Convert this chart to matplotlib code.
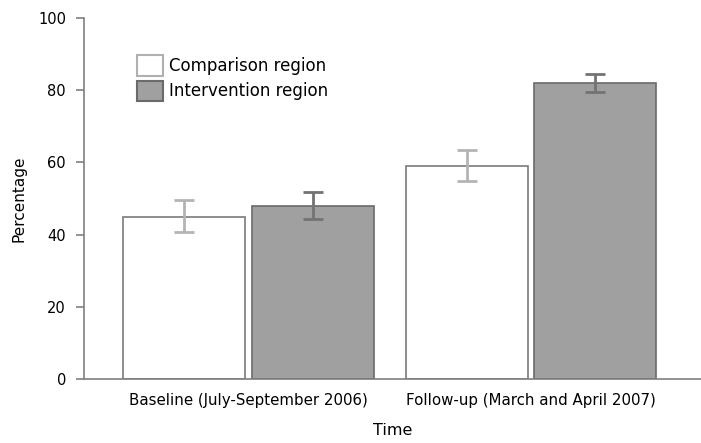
import numpy as np
import matplotlib
matplotlib.use('Agg')
import matplotlib.pyplot as plt
from matplotlib.patches import Patch

groups = ['Baseline (July-September 2006)', 'Follow-up (March and April 2007)']
comparison = [45, 59]
comparison_err_lo = [4.2, 4.2]
comparison_err_hi = [4.6, 4.4]
intervention = [48, 82]
intervention_err_lo = [3.7, 2.5]
intervention_err_hi = [3.8, 2.5]
yticks = [0, 20, 40, 60, 80, 100]

plt.rcParams['font.family'] = 'DejaVu Sans'
axis_col = '#7f7f7f'

fig = plt.figure(figsize=(7.01, 4.43), dpi=100)
ax = fig.add_axes([0.12, 0.1445, 0.88, 0.8145])

x = np.arange(len(groups))
w = 0.432
off = w / 2 + 0.011

ax.bar(x - off, comparison, w, color='white', edgecolor='#7a7a7a', linewidth=1.2)
ax.bar(x + off, intervention, w, color='#a0a0a0', edgecolor='#6a6a6a', linewidth=1.2)
ax.errorbar(x - off, comparison, yerr=[comparison_err_lo, comparison_err_hi], fmt='none',
            ecolor='#b4b4b4', elinewidth=2, capsize=7, capthick=2)
ax.errorbar(x + off, intervention, yerr=[intervention_err_lo, intervention_err_hi], fmt='none',
            ecolor='#737373', elinewidth=2, capsize=7, capthick=2)

ax.set_xlim(-0.582, 1.602)
ax.set_ylim(0, 100)
ax.set_yticks(yticks)
ax.set_xticks(x)
ax.set_xticklabels(groups, fontsize=10.8)
ax.tick_params(axis='y', labelsize=10.5, length=6, color=axis_col, width=1.2, pad=7)
ax.tick_params(axis='x', length=0, pad=10)
for s in ['top', 'right']:
    ax.spines[s].set_visible(False)
for s in ['left', 'bottom']:
    ax.spines[s].set_color(axis_col)
    ax.spines[s].set_linewidth(1.2)

ax.set_ylabel('Percentage', fontsize=11, labelpad=8)
ax.set_xlabel('Time', fontsize=11.5, labelpad=11)

handles = [Patch(facecolor='white', edgecolor='#b0b0b0', linewidth=1.5, label='Comparison region'),
           Patch(facecolor='#a0a0a0', edgecolor='#6a6a6a', linewidth=1.5, label='Intervention region')]
ax.legend(handles=handles, loc='upper left', bbox_to_anchor=(0.072, 0.92), frameon=False,
          fontsize=12, handlelength=1.55, handleheight=1.5, handletextpad=0.4, labelspacing=0.3,
          borderpad=0)

plt.savefig('out.png', dpi=100)
plt.close()
